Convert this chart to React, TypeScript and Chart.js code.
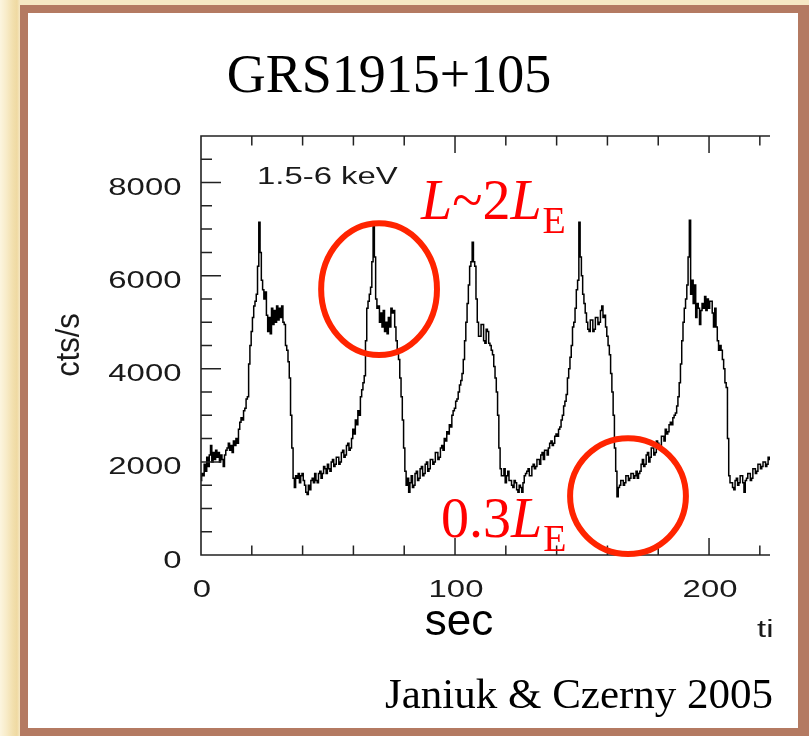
import React, { useEffect, useRef } from "react";
import { Chart, registerables } from "chart.js";

Chart.register(...registerables);

// ---- Data (GRS 1915+105 light curve, 1.5-6 keV, 0.5 s bins) ----
const TIME_START = 0; // s, first bin
const TIME_STEP = 0.5; // s per bin
const counts: number[] = [
  // 0-9.5 s
  1600, 1750, 1700, 1950, 1800, 2100, 1900, 2150, 2350, 2000, 2200, 2050, 2250, 2100, 2200, 2000, 2150, 2050, 1900, 2150,
  // 10-19.5
  2250, 2300, 2400, 2250, 2350, 2200, 2450, 2350, 2500, 2400, 2700, 2850, 2950, 2900, 3100, 3150, 3350, 3400, 4100, 4500,
  // 20-29.5
  4800, 5100, 5350, 5450, 5600, 6200, 7150, 6500, 5900, 5700, 5500, 5650, 5150, 4800, 5100, 4750, 5300, 4950, 5250, 5000,
  // 30-39.5
  5350, 5050, 5300, 5100, 5350, 5000, 4950, 4500, 4400, 4150, 3800, 3000, 2300, 1650, 1450, 1700, 1650, 1750, 1550, 1700,
  // 40-49.5
  1750, 1600, 1500, 1350, 1300, 1500, 1400, 1600, 1650, 1550, 1750, 1600, 1550, 1750, 1800, 1650, 1750, 1900, 1850, 1750,
  // 50-59.5
  1950, 1850, 1800, 2000, 2050, 1900, 1950, 2100, 2100, 1950, 2000, 2200, 2250, 2100, 2150, 2350, 2400, 2250, 2300, 2500,
  // 60-69.5
  2700, 2600, 2900, 2800, 3100, 3000, 3400, 3550, 3700, 3850, 4600, 5300, 5450, 5600, 5750, 6300, 7080, 6400, 5500, 5300,
  // 70-79.5
  5350, 5000, 5200, 4900, 5250, 4800, 5000, 4750, 5100, 4900, 5300, 5200, 5250, 4900, 4600, 4350, 4200, 3800, 3400, 2900,
  // 80-89.5
  2300, 1800, 1500, 1650, 1350, 1550, 1700, 1450, 1500, 1750, 1800, 1600, 1650, 1850, 1900, 1700, 1750, 1950, 2000, 1800,
  // 90-99.5
  1850, 2050, 2050, 1950, 2000, 2200, 2200, 2050, 2100, 2300, 2350, 2250, 2500, 2450, 2650, 2600, 2800, 2750, 3000, 3100,
  // 100-109.5
  3150, 3300, 3350, 3500, 3650, 3750, 3900, 4200, 4600, 5000, 5400, 5800, 6200, 6300, 6720, 6300, 6200, 5500, 5000, 4700,
  // 110-119.5
  4700, 4950, 4950, 4600, 4550, 4850, 4800, 4550, 4500, 4400, 4300, 4050, 3800, 3500, 3000, 2300, 1850, 1700, 1700, 1850,
  // 120-129.5
  1550, 1700, 1800, 1600, 1600, 1500, 1450, 1600, 1550, 1400, 1350, 1500, 1450, 1350, 1550, 1700, 1750, 1800, 1850, 1700,
  // 130-139.5
  1700, 1900, 1950, 1850, 1900, 2050, 2050, 1950, 2150, 2200, 2050, 2250, 2250, 2150, 2300, 2400, 2450, 2350, 2400, 2550,
  // 140-149.5
  2600, 2550, 2700, 2750, 2900, 3000, 3200, 3300, 3450, 3800, 4000, 4250, 4500, 4900, 5000, 5300, 5700, 5900, 7150, 6400,
  // 150-159.5
  6000, 5600, 5400, 5200, 5000, 4850, 4800, 5050, 5050, 4800, 4850, 5100, 5100, 4950, 5000, 5250, 5350, 5100, 5150, 4900,
  // 160-169.5
  4700, 4500, 4300, 3900, 3500, 3000, 2300, 1800, 1250, 1450, 1500, 1600, 1600, 1500, 1550, 1700, 1700, 1600, 1650, 1750,
  // 170-179.5
  1750, 1650, 1700, 1800, 1650, 1750, 1800, 1950, 2050, 1900, 1950, 2150, 2200, 2000, 2100, 2300, 2300, 2150, 2200, 2450,
  // 180-189.5
  2400, 2300, 2350, 2550, 2550, 2450, 2700, 2600, 2650, 2800, 2850, 2800, 2950, 3000, 3050, 3200, 3400, 3700, 4100, 4600,
  // 190-199.5
  5000, 5300, 5500, 5800, 6400, 7190, 5600, 5900, 5400, 5800, 5100, 5400, 5300, 4950, 5250, 5400, 5300, 5550, 5250, 5500,
  // 200-209.5
  5300, 5450, 5450, 5200, 4900, 5300, 4900, 4600, 4400, 4500, 4400, 4200, 4000, 3700, 3600, 2500, 1700, 1550, 1550, 1450,
  // 210-219.5
  1400, 1600, 1650, 1500, 1550, 1700, 1700, 1550, 1350, 1600, 1650, 1750, 1750, 1600, 1650, 1850, 1850, 1750, 1800, 1950,
  // 220-224
  1950, 1850, 1900, 2000, 2000, 1900, 1950, 2100, 2050,
];

// Axes
const X_MIN = 0;
const X_MAX = 224;
const Y_MIN = 0;
const Y_MAX = 9000;
const xMajorTicks = [0, 100, 200];
const xMinorStep = 20;
const yMajorTicks = [0, 2000, 4000, 6000, 8000];
const yMinorStep = 500;
const xTickLabels = ["0", "100", "200"];
const yTickLabels = ["0", "2000", "4000", "6000", "8000"];

// Texts
const TITLE = "GRS1915+105";
const CREDIT = "Janiuk & Czerny 2005";
const BAND_LABEL = "1.5-6 keV";
const Y_TITLE = "cts/s";
const X_TITLE = "sec";
const X_TITLE_CUT = "ti";

// Highlight ellipses, in data units: [centre t, centre cts/s, half-width s, half-height cts/s]
const highlights: number[][] = [
  [70.1, 5710, 22.8, 1415],
  [168.1, 1265, 22.8, 1245],
];

const SANS = '"Liberation Sans", Arial, Helvetica, sans-serif';
const SERIF = '"Liberation Serif", "Times New Roman", serif';
const STRETCH = 1.43; // horizontal stretch of the original figure lettering
const RED = "#ff0000";
const CIRCLE_RED = "rgb(255, 36, 0)";

function stretchedText(
  ctx: CanvasRenderingContext2D,
  text: string,
  x: number,
  y: number,
  align: CanvasTextAlign,
  sx: number
) {
  ctx.save();
  ctx.translate(x, y);
  ctx.scale(sx, 1);
  ctx.textAlign = align;
  ctx.textBaseline = "alphabetic";
  ctx.fillText(text, 0, 0);
  ctx.restore();
}

function drawLabelWithSub(
  ctx: CanvasRenderingContext2D,
  parts: { t: string; italic: boolean }[],
  sub: string,
  x: number,
  y: number,
  size: number,
  subSize: number,
  subDrop: number
) {
  let cx = x;
  ctx.textAlign = "left";
  ctx.textBaseline = "alphabetic";
  for (const p of parts) {
    ctx.font = `${p.italic ? "italic " : ""}${size}px ${SERIF}`;
    ctx.fillText(p.t, cx, y);
    cx += ctx.measureText(p.t).width;
  }
  ctx.font = `${subSize}px ${SERIF}`;
  ctx.fillText(sub, cx + 1, y + subDrop);
}

const figurePlugin = {
  id: "figureDecor",
  afterDatasetsDraw(chart: any) {
    const { ctx, chartArea: a } = chart;
    const xs = chart.scales.x;
    const ys = chart.scales.y;
    ctx.save();

    // Axis frame (left, top, bottom) - right side cropped in original
    ctx.strokeStyle = "#222";
    ctx.lineWidth = 1.6;
    ctx.beginPath();
    ctx.moveTo(a.right, a.top);
    ctx.lineTo(a.left, a.top);
    ctx.lineTo(a.left, a.bottom);
    ctx.lineTo(a.right, a.bottom);
    ctx.stroke();

    // Y ticks (inward)
    ctx.lineWidth = 1.5;
    ctx.beginPath();
    for (let v = Y_MIN + yMinorStep; v < Y_MAX; v += yMinorStep) {
      const py = ys.getPixelForValue(v);
      const len = yMajorTicks.includes(v) ? 20 : 11;
      ctx.moveTo(a.left, py);
      ctx.lineTo(a.left + len, py);
    }
    // X ticks (bottom up, top down)
    for (let t = X_MIN + xMinorStep; t <= X_MAX; t += xMinorStep) {
      const px = xs.getPixelForValue(t);
      const len = xMajorTicks.includes(t) ? 17 : 9.5;
      ctx.moveTo(px, a.bottom);
      ctx.lineTo(px, a.bottom - len);
      ctx.moveTo(px, a.top);
      ctx.lineTo(px, a.top + len);
    }
    ctx.stroke();

    // Tick labels (stretched sans)
    ctx.fillStyle = "#1a1a1a";
    ctx.font = `23px ${SANS}`;
    yMajorTicks.forEach((v, i) => {
      stretchedText(ctx, yTickLabels[i], a.left - 19.5, ys.getPixelForValue(v) + 12.5, "right", STRETCH);
    });
    xMajorTicks.forEach((t, i) => {
      stretchedText(ctx, xTickLabels[i], xs.getPixelForValue(t) + 1, a.bottom + 42, "center", STRETCH);
    });

    // Band label
    stretchedText(ctx, BAND_LABEL, 257, 183.5, "left", STRETCH);
    // cut axis title
    stretchedText(ctx, X_TITLE_CUT, 757, 637, "left", STRETCH);

    // Y axis title rotated
    ctx.save();
    ctx.translate(79, 345);
    ctx.rotate(-Math.PI / 2);
    ctx.scale(1, 1.1);
    ctx.font = `31px ${SANS}`;
    ctx.textAlign = "center";
    ctx.textBaseline = "alphabetic";
    ctx.fillText(Y_TITLE, 0, 0);
    ctx.restore();

    // Highlight ellipses
    ctx.strokeStyle = CIRCLE_RED;
    ctx.lineWidth = 6;
    for (const [t, v, dt, dv] of highlights) {
      const cx = xs.getPixelForValue(t);
      const cy = ys.getPixelForValue(v);
      const rx = xs.getPixelForValue(t + dt) - cx;
      const ry = cy - ys.getPixelForValue(v + dv);
      ctx.beginPath();
      ctx.ellipse(cx, cy, rx, ry, 0, 0, Math.PI * 2);
      ctx.stroke();
    }

    // Red luminosity labels
    ctx.fillStyle = RED;
    drawLabelWithSub(
      ctx,
      [
        { t: "L", italic: true },
        { t: "~2", italic: false },
        { t: "L", italic: true },
      ],
      "E",
      421,
      219,
      56,
      38,
      14
    );
    drawLabelWithSub(
      ctx,
      [
        { t: "0.3", italic: false },
        { t: "L", italic: true },
      ],
      "E",
      441,
      537,
      56,
      38,
      14
    );

    // Title, x title, credit
    ctx.fillStyle = "#000";
    ctx.textAlign = "center";
    ctx.textBaseline = "alphabetic";
    ctx.font = `54px ${SERIF}`;
    ctx.fillText(TITLE, 389, 92);
    ctx.font = `44px ${SANS}`;
    ctx.fillText(X_TITLE, 459, 635);
    ctx.font = `43px ${SERIF}`;
    ctx.fillText(CREDIT, 579, 708);

    ctx.restore();
  },
};

export default function App() {
  const ref = useRef<HTMLCanvasElement>(null);

  useEffect(() => {
    const canvas = ref.current;
    if (!canvas) return;
    const points = counts.map((c, i) => ({ x: TIME_START + i * TIME_STEP, y: c }));
    const chart = new Chart(canvas, {
      type: "line",
      data: {
        datasets: [
          {
            data: points,
            borderColor: "#000",
            borderWidth: 1.5,
            pointRadius: 0,
            stepped: "middle",
            fill: false,
            tension: 0,
          },
        ],
      },
      options: {
        responsive: false,
        animation: false,
        devicePixelRatio: 1,
        events: [],
        layout: { padding: { left: 201, top: 136, right: 39, bottom: 181 } },
        plugins: { legend: { display: false }, tooltip: { enabled: false }, title: { display: false } },
        scales: {
          x: { type: "linear", min: X_MIN, max: X_MAX, display: false },
          y: { type: "linear", min: Y_MIN, max: Y_MAX, display: false },
        },
      },
      plugins: [figurePlugin],
    } as any);
    return () => chart.destroy();
  }, []);

  return (
    <div
      style={{
        position: "fixed",
        left: 0,
        top: 0,
        width: 809,
        height: 736,
        overflow: "hidden",
        background:
          "linear-gradient(90deg, #fcf5df 0px, #f8ecca 6px, #f2dfad 13px, #efd9a2 17px, #f6e8c4 20px)",
      }}
    >
      <div
        style={{
          position: "absolute",
          left: 20,
          top: 5,
          width: 789,
          height: 731,
          boxSizing: "border-box",
          borderStyle: "solid",
          borderColor: "#b47a62",
          borderWidth: "8px 11px 8px 8px",
          background: "#fff",
        }}
      />
      <canvas
        ref={ref}
        width={809}
        height={736}
        style={{ position: "absolute", left: 0, top: 0, width: 809, height: 736 }}
      />
    </div>
  );
}
